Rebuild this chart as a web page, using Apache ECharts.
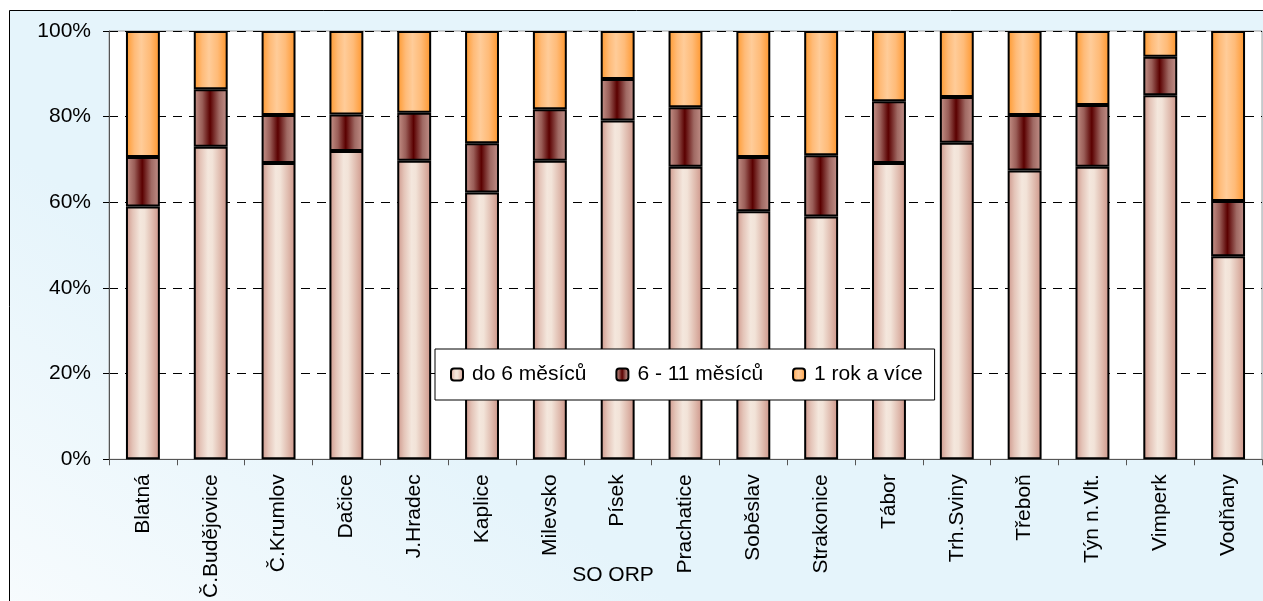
<!DOCTYPE html>
<html>
<head>
<meta charset="utf-8">
<script src="https://cdn.jsdelivr.net/npm/echarts@6/dist/echarts.min.js"></script>
<style>
html,body{margin:0;padding:0;background:#fff;}
#chart{width:1263px;height:601px;}
</style>
</head>
<body>
<div id="chart"></div>
<script>
var categories = ['Blatná','Č.Budějovice','Č.Krumlov','Dačice','J.Hradec','Kaplice','Milevsko','Písek','Prachatice','Soběslav','Strakonice','Tábor','Trh.Sviny','Třeboň','Týn n.Vlt.','Vimperk','Vodňany'];
var seriesNames = ['do 6 měsíců','6 - 11 měsíců','1 rok a více'];
var upTo6 = [59.0, 73.0, 69.2, 72.0, 69.7, 62.3, 69.7, 79.1, 68.3, 57.9, 56.7, 69.2, 73.9, 67.4, 68.3, 85.0, 47.4];
var from6to11 = [11.6, 13.4, 11.2, 8.5, 11.2, 11.5, 12.0, 9.7, 13.9, 12.7, 14.3, 14.4, 10.7, 13.0, 14.4, 9.0, 12.9];
var yearPlus = [29.4, 13.6, 19.6, 19.5, 19.1, 26.2, 18.3, 11.2, 17.8, 29.4, 29.0, 16.4, 15.4, 19.6, 17.3, 6.0, 39.7];
var yTicks = [0, 20, 40, 60, 80, 100];
var axisName = 'SO ORP';

function hGrad(stops){
  return {type:'linear', x:0, y:0, x2:1, y2:0, colorStops: stops.map(function(s){return {offset:s[0], color:s[1]};})};
}
var grad1 = hGrad([[0,'#cd968a'],[0.2,'#e4c4b8'],[0.42,'#f4e7dd'],[0.55,'#f2e3d8'],[0.8,'#deb8ab'],[1,'#cc9387']]);
var grad2 = hGrad([[0,'#c8958b'],[0.25,'#9a5e58'],[0.48,'#5a0000'],[0.75,'#a06a64'],[1,'#c4928a']]);
var grad3 = hGrad([[0,'#ff982c'],[0.25,'#ffbb78'],[0.45,'#ffcc99'],[0.7,'#ffbb78'],[1,'#ff952a']]);

var chart = echarts.init(document.getElementById('chart'), null, {renderer:'canvas'});
var FONT = 'Liberation Sans, Arial, sans-serif';

function mkSeries(name, data, color){
  return {
    name: name, type:'bar', stack:'total', data: data, barWidth:'50%',
    itemStyle:{color: color, borderColor:'#000', borderWidth:2},
    emphasis:{disabled:true}, z:2
  };
}

chart.setOption({
  animation:false,
  textStyle:{fontFamily:FONT},
  graphic:[
    {type:'rect', z:-10, silent:true,
     shape:{x:9.5, y:10.5, width:1300, height:700},
     style:{fill:{type:'linear', x:0, y:1, x2:0.2, y2:0.45, colorStops:[{offset:0,color:'#fbfdfe'},{offset:1,color:'#e5f4fb'}]}, stroke:'#000', lineWidth:1}},
    {type:'text', z:10, silent:true, x:613, y:575,
     style:{text:axisName, font:'21px ' + FONT, fill:'#000', align:'center', verticalAlign:'middle'}}
  ],
  grid:{left:109, right:1, top:31, bottom:140, show:true, backgroundColor:'#fff', borderColor:'#a0a0a0', borderWidth:1, containLabel:false},
  legend:{
    data: seriesNames, left:435, top:349, orient:'horizontal',
    padding:[15,12,15,15], itemWidth:12, itemHeight:12, itemGap:29,
    backgroundColor:'#fff', borderColor:'#000', borderWidth:1, borderRadius:0,
    textStyle:{fontSize:21, color:'#000', fontFamily:FONT, padding:[0,0,0,4]},
    selectedMode:false, z:20
  },
  xAxis:{
    type:'category', data:categories, boundaryGap:true,
    axisLine:{show:true, lineStyle:{color:'#555', width:1}},
    axisTick:{show:true, length:6, lineStyle:{color:'#555'}},
    axisLabel:{rotate:90, margin:15, fontSize:21, color:'#000', fontFamily:FONT, interval:0},
    splitLine:{show:false}
  },
  yAxis:{
    type:'value', min:yTicks[0], max:yTicks[yTicks.length-1], interval:yTicks[1]-yTicks[0],
    axisLine:{show:true, lineStyle:{color:'#555', width:1}},
    axisTick:{show:true, length:6, lineStyle:{color:'#000'}},
    axisLabel:{formatter:'{value}%', margin:18, fontSize:21, color:'#000', fontFamily:FONT},
    splitLine:{show:true, lineStyle:{color:'#000', type:[9,7], width:1}}
  },
  series:[
    mkSeries(seriesNames[0], upTo6, grad1),
    mkSeries(seriesNames[1], from6to11, grad2),
    mkSeries(seriesNames[2], yearPlus, grad3)
  ]
});
</script>
</body>
</html>
